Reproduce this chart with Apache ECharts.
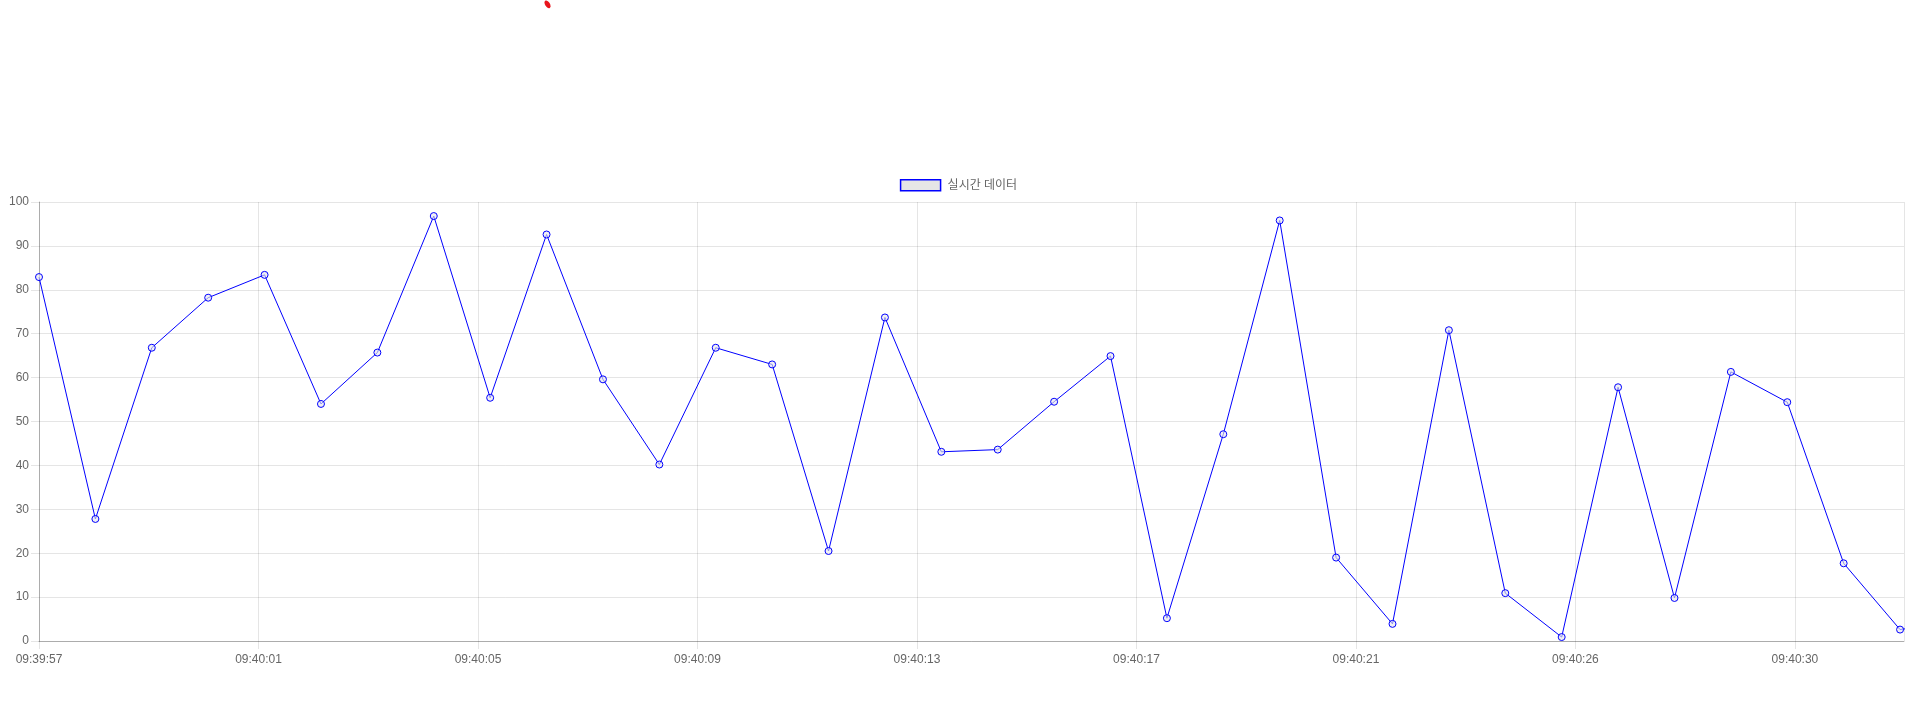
<!DOCTYPE html>
<html>
<head>
<meta charset="utf-8">
<script src="https://cdn.jsdelivr.net/npm/echarts@6/dist/echarts.min.js"></script>
<style>
html,body{margin:0;padding:0;background:#fff;}
#chart{width:1917px;height:722px;}
</style>
</head>
<body>
<div id="chart"></div>
<script>
// Series name (legend)
const seriesName = '실시간 데이터';
// Values per sample (index = sample number); the last one lies just past the axis end
const values = [82.9, 27.8, 66.8, 78.2, 83.4, 54.0, 65.7, 96.8, 55.4, 92.6, 59.6, 40.2,
  66.8, 63.0, 20.5, 73.7, 43.1, 43.6, 54.5, 64.9, 5.2, 47.1, 95.8, 19.0, 3.9,
  70.8, 10.9, 0.9, 57.8, 9.8, 61.3, 54.4, 17.7, 2.6, 4.5];
// X tick labels (time stamps shown under the axis)
const xTickLabels = ['09:39:57', '09:40:01', '09:40:05', '09:40:09', '09:40:13',
  '09:40:17', '09:40:21', '09:40:26', '09:40:30'];
// Tick spacing in samples, and visible x extent in samples
const xTickStep = 3.892;
const xMax = 33.07;
// Y ticks
const yMin = 0, yMax = 100, yStep = 10;

const seriesData = values.map((v, i) => [i, v]);

const chart = echarts.init(document.getElementById('chart'), null, {renderer: 'canvas'});
const font = 'Liberation Sans, Arial, Noto Sans CJK KR, sans-serif';
chart.setOption({
  animation: false,
  grid: {left: 39, right: 13, top: 202, bottom: 81, containLabel: false},
  legend: {
    top: 174,
    left: 'center',
    icon: 'rect',
    itemWidth: 40,
    itemHeight: 11,
    itemGap: 10,
    textStyle: {color: '#666', fontSize: 12, fontFamily: font, padding: [0, 0, 0, 2]},
    data: [{name: seriesName, itemStyle: {color: '#e6e6e6', borderColor: '#0000ff', borderWidth: 1.5}}]
  },
  xAxis: {
    type: 'value',
    min: 0,
    max: xMax,
    interval: xTickStep,
    axisLine: {show: true, lineStyle: {color: 'rgba(0,0,0,0.25)', width: 1}},
    axisTick: {show: true, length: 8, lineStyle: {color: 'rgba(0,0,0,0.1)'}},
    splitLine: {show: true, lineStyle: {color: 'rgba(0,0,0,0.1)', width: 1}},
    axisLabel: {
      color: '#666', fontSize: 12, fontFamily: font, margin: 13,
      showMaxLabel: false,
      formatter: function (v) {
        const k = Math.round(v / xTickStep);
        return xTickLabels[k] !== undefined ? xTickLabels[k] : '';
      }
    }
  },
  yAxis: {
    type: 'value',
    min: yMin,
    max: yMax,
    interval: yStep,
    axisLine: {show: true, lineStyle: {color: 'rgba(0,0,0,0.25)', width: 1}},
    axisTick: {show: true, length: 8, lineStyle: {color: 'rgba(0,0,0,0.1)'}},
    splitLine: {show: true, lineStyle: {color: 'rgba(0,0,0,0.1)', width: 1}},
    axisLabel: {color: '#666', fontSize: 12, fontFamily: font, margin: 10}
  },
  series: [{
    name: seriesName,
    type: 'line',
    data: seriesData,
    clip: true,
    symbol: 'circle',
    symbolSize: 7,
    showAllSymbol: true,
    lineStyle: {color: '#0000ff', width: 1},
    itemStyle: {color: 'rgba(230,230,235,0.6)', borderColor: '#0000ff', borderWidth: 1}
  }],
  graphic: [{
    type: 'ellipse',
    shape: {cx: 0, cy: 0, rx: 2.4, ry: 4.3},
    x: 547.5, y: 4.3,
    rotation: 0.55,
    style: {fill: '#e8141c'}
  }]
});
</script>
</body>
</html>
